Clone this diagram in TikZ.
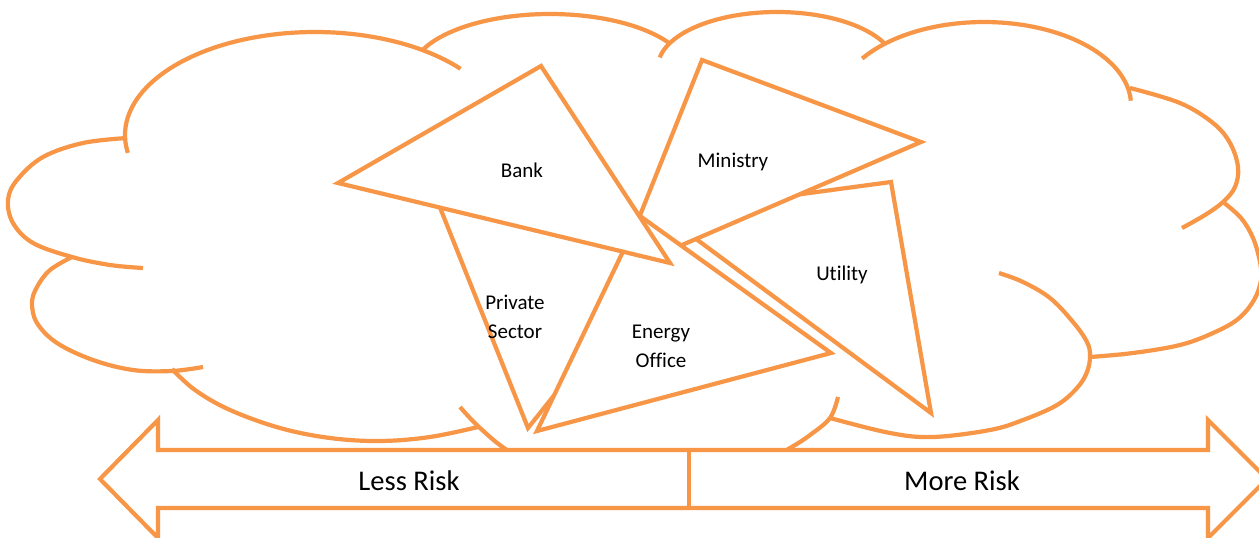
\documentclass[tikz,border=0pt]{standalone}
\usepackage{fontspec}
\setmainfont{Carlito}[Ligatures=NoCommon]
\definecolor{riskorange}{HTML}{F79646}
% one elliptic lobe of the cloud: centre (#1,#2), radii #3,#4, angles #5..#6
\newcommand\lobearc[6]{\draw[lobe] plot[domain=#5:#6, samples=70] ({#1+#3*cos(\x)},{#2+#4*sin(\x)});}
\begin{document}
\begin{tikzpicture}[x=1pt,y=-1pt,
  outline/.style={draw=riskorange, line width=4.2pt},
  lobe/.style={outline, line cap=butt},
  plate/.style={outline, fill=white, line join=miter, miter limit=12},
  tag/.style={font=\fontsize{21}{25}\selectfont, anchor=base, inner sep=0pt},
  risktag/.style={font=\fontsize{28.5}{34}\selectfont, anchor=base, inner sep=0pt}]
\useasboundingbox (0,0) rectangle (1259,538);
\clip (0,0) rectangle (1259,538);
\fill[white] (0,0) rectangle (1259,538);

% ---- cloud outline ----
\lobearc{315}{135}{190}{103}{170}{320}
\lobearc{550}{74}{139}{60}{204}{329}
\lobearc{777}{67}{119}{55}{190}{334}
\lobearc{984}{105}{147}{83}{214}{357}
\draw[lobe] plot[smooth, tension=0.6] coordinates {(1130,88) (1180,103) (1213,123) (1230,143) (1238,167) (1235,187) (1223,202) (1205,215) (1182,228)};
\draw[lobe] plot[smooth, tension=0.6] coordinates {(1223,202) (1241,218) (1253,238) (1260,262) (1261,280) (1254,300) (1238,319) (1213,333) (1180,345) (1133,353) (1090,357)};
\draw[lobe] plot[smooth, tension=0.6] coordinates {(999,273) (1023,282) (1050,298) (1073,322) (1087,342) (1090,356) (1087,372) (1077,388) (1057,405) (1023,420) (990,430) (933,437) (890,433) (830,418)};
\draw[lobe] plot[smooth, tension=0.6] coordinates {(460,407) (480,428) (510,452) (560,478) (650,490) (740,476) (790,448) (810,435) (830,418) (838,397)};
\draw[lobe] plot[smooth, tension=0.6] coordinates {(172,369) (195,390) (230,410) (280,428) (330,438) (380,441) (430,437) (478,427)};
\draw[lobe] plot[smooth, tension=0.6] coordinates {(72,257) (50,270) (37,287) (32,303) (37,323) (57,343) (93,360) (133,370) (172,371) (203,367)};
\draw[lobe] plot[smooth, tension=0.6] coordinates {(127,138) (83,143) (43,157) (17,180) (8,200) (13,223) (33,243) (72,257) (110,265) (143,268)};

% ---- triangle vertices ----
\coordinate (utilTL) at (661,213);
\coordinate (utilTR) at (891,182);
\coordinate (utilB)  at (931,413);
\coordinate (minTop) at (702,60);
\coordinate (minR)   at (921,142);
\coordinate (minL)   at (617,273);
\coordinate (psTL)   at (433,190);
\coordinate (psB)    at (528,428);
\coordinate (psTR)   at (663,259);
\coordinate (eoTop)  at (640,216);
\coordinate (eoL)    at (537,431);
\coordinate (eoR)    at (831,353);
\coordinate (bankTop) at (541,66);
\coordinate (bankL)  at (338,183);
\coordinate (bankR)  at (670,263);

% ---- triangles, back to front ----
\draw[plate] (utilTL) -- (utilTR) -- (utilB) -- cycle;
\draw[plate] (minTop) -- (minR) -- (minL) -- cycle;
\draw[plate] (psTL) -- (psB) -- (psTR) -- cycle;
\draw[plate] (eoTop) -- (eoR) -- (eoL) -- cycle;
\draw[plate] (bankTop) -- (bankR) -- (bankL) -- cycle;

\node[tag] (bank) at (522,177) {Bank};
\node[tag] (ministry) at (733,167) {Ministry};
\node[tag] (utility) at (842,280) {Utility};
\node[tag] (private) at (515,309) {Private};
\node[tag] (sector) at (515,338) {Sector};
\node[tag] (energy) at (661,338) {Energy};
\node[tag] (office) at (661,367) {Office};

% ---- risk scale arrow ----
\coordinate (tipL) at (100,479);
\coordinate (tipR) at (1267,479);
\coordinate (midTop) at (689,450);
\coordinate (midBot) at (689,508);
\draw[plate] (tipL) -- (158,420) -- (158,450) -- (1208,450) -- (1208,420) -- (tipR)
  -- (1208,538) -- (1208,508) -- (158,508) -- (158,538) -- cycle;
\draw[outline] (midTop) -- (midBot);
\node[risktag] (less) at (409,490) {Less Risk};
\node[risktag] (more) at (962,490) {More Risk};
\end{tikzpicture}
\end{document}
